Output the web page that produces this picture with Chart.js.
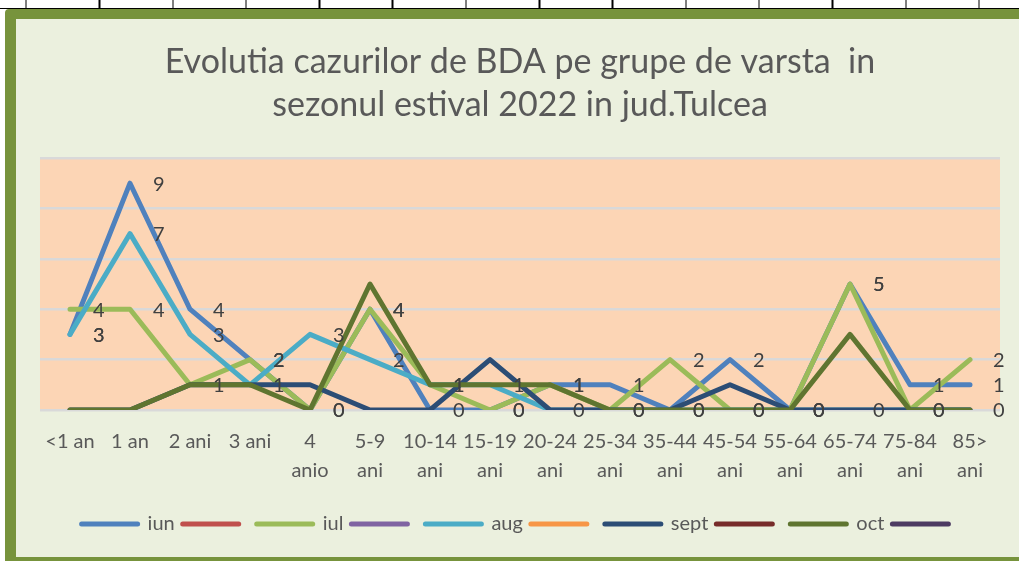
<!DOCTYPE html>
<html>
<head>
<meta charset="utf-8">
<script src="https://cdn.jsdelivr.net/npm/chart.js@4"></script>
<style>
  html, body { margin: 0; padding: 0; background: #fff; }
  body { width: 1019px; height: 561px; position: relative; overflow: hidden; }
  .sheet {
    position: absolute; left: 0; top: 0; width: 1019px; height: 8px;
    background-image: repeating-linear-gradient(90deg, #000 0 1.5px, transparent 1.5px 73.3px);
    background-position: 25.5px 0;
    border-bottom: 1.5px solid #000;
  }
  .frame {
    position: absolute; left: 5px; top: 9px; width: 1040px; height: 559px;
    box-sizing: border-box; border: 11px solid #77933C; border-top-width: 10px;
    border-radius: 4px; background: #EBF0DE;
  }
  #wrap { position: absolute; left: 0; top: 0; width: 1019px; height: 561px; }
</style>
</head>
<body>
<div class="sheet"></div>
<div class="frame"></div>
<div id="wrap"><canvas id="chart"></canvas></div>
<script>
const categories = ['<1 an', '1 an', '2 ani', '3 ani', ['4', 'anio'], ['5-9', 'ani'], ['10-14', 'ani'],
  ['15-19', 'ani'], ['20-24', 'ani'], ['25-34', 'ani'], ['35-44', 'ani'], ['45-54', 'ani'],
  ['55-64', 'ani'], ['65-74', 'ani'], ['75-84', 'ani'], ['85>', 'ani']];

const iun  = [3, 9, 4, 2, 0, 4, 0, 0, 1, 1, 0, 2, 0, 5, 1, 1];
const iul  = [4, 4, 1, 2, 0, 4, 1, 0, 1, 0, 2, 0, 0, 5, 0, 2];
const aug  = [3, 7, 3, 1, 3, 2, 1, 1, 0, 0, 0, 0, 0, 0, 0, 0];
const sept = [0, 0, 1, 1, 1, 0, 0, 2, 0, 0, 0, 1, 0, 0, 0, 0];
const oct  = [0, 0, 1, 1, 0, 5, 1, 1, 1, 0, 0, 0, 0, 3, 0, 0];

// excel sheet had empty columns between the months, they still show in the legend
const seriesNames  = ['iun', '', 'iul', '', 'aug', '', 'sept', '', 'oct', ''];
const seriesData   = [iun, [], iul, [], aug, [], sept, [], oct, []];
const seriesColors = ['#4F81BD', '#C0504D', '#9BBB59', '#8064A2', '#4BACC6',
                      '#F79646', '#2C4D75', '#772C2A', '#5F7530', '#4D3B62'];
const labelledSeries = ['iun', 'iul', 'aug'];
const yTicks = [0, 2, 4, 6, 8, 10];

const FONT = 'Lato';

const plotBg = {
  id: 'plotBg',
  beforeDraw(chart) {
    const { ctx, chartArea: a } = chart;
    ctx.save();
    ctx.fillStyle = '#FCD5B5';
    ctx.fillRect(a.left, a.top, a.right - a.left, a.bottom - a.top);
    ctx.restore();
  }
};

const valueLabels = {
  id: 'valueLabels',
  afterDatasetsDraw(chart) {
    const ctx = chart.ctx;
    ctx.save();
    ctx.font = '20px ' + FONT;
    ctx.fillStyle = '#404040';
    ctx.textAlign = 'left';
    ctx.textBaseline = 'middle';
    chart.data.datasets.forEach((ds, i) => {
      if (!labelledSeries.includes(ds.label)) return;
      chart.getDatasetMeta(i).data.forEach((pt, j) => {
        ctx.fillText(String(ds.data[j]), pt.x + 23, pt.y + 1);
      });
    });
    ctx.restore();
  }
};

const datasets = seriesNames.map((name, i) => ({
  label: name,
  data: seriesData[i],
  borderColor: seriesColors[i],
  backgroundColor: seriesColors[i],
  borderWidth: 5,
  borderCapStyle: 'round',
  borderJoinStyle: 'round',
  pointRadius: 0,
  tension: 0,
  order: seriesNames.length - i   // later series on top, like excel
}));

new Chart(document.getElementById('chart'), {
  type: 'line',
  data: { labels: categories, datasets },
  options: {
    responsive: true,
    maintainAspectRatio: false,
    animation: false,
    events: [],
    layout: { padding: { left: 40, right: 19, top: 0, bottom: 17 } },
    plugins: {
      title: {
        display: true,
        text: ['Evolutia cazurilor de BDA pe grupe de varsta  in', 'sezonul estival 2022 in jud.Tulcea'],
        color: '#595959',
        font: { family: FONT, size: 34, weight: 'normal', lineHeight: '43px' },
        padding: { top: 41, bottom: 31 }
      },
      legend: {
        position: 'bottom',
        reverse: true,
        labels: {
          usePointStyle: true,
          pointStyle: 'line',
          pointStyleWidth: 56,
          padding: 8,
          color: '#595959',
          font: { family: FONT, size: 20 },
          generateLabels: chart => Chart.defaults.plugins.legend.labels.generateLabels(chart)
            .map(it => ({ ...it, lineWidth: 5, lineCap: 'round' }))
        }
      },
      tooltip: { enabled: false }
    },
    scales: {
      x: {
        offset: true,
        grid: { display: false, drawTicks: false },
        border: { display: false },
        ticks: {
          color: '#595959',
          font: { family: FONT, size: 20, lineHeight: '29px' },
          padding: 17,
          autoSkip: false,
          maxRotation: 0
        },
        afterFit: s => { s.height = 96; }
      },
      y: {
        min: yTicks[0],
        max: yTicks[yTicks.length - 1],
        afterBuildTicks: s => { s.ticks = yTicks.map(v => ({ value: v })); },
        grid: { color: '#D9D9D9', lineWidth: 2.5, drawTicks: false },
        border: { display: false },
        ticks: { display: false }
      }
    }
  },
  plugins: [plotBg, valueLabels]
});
</script>
</body>
</html>
